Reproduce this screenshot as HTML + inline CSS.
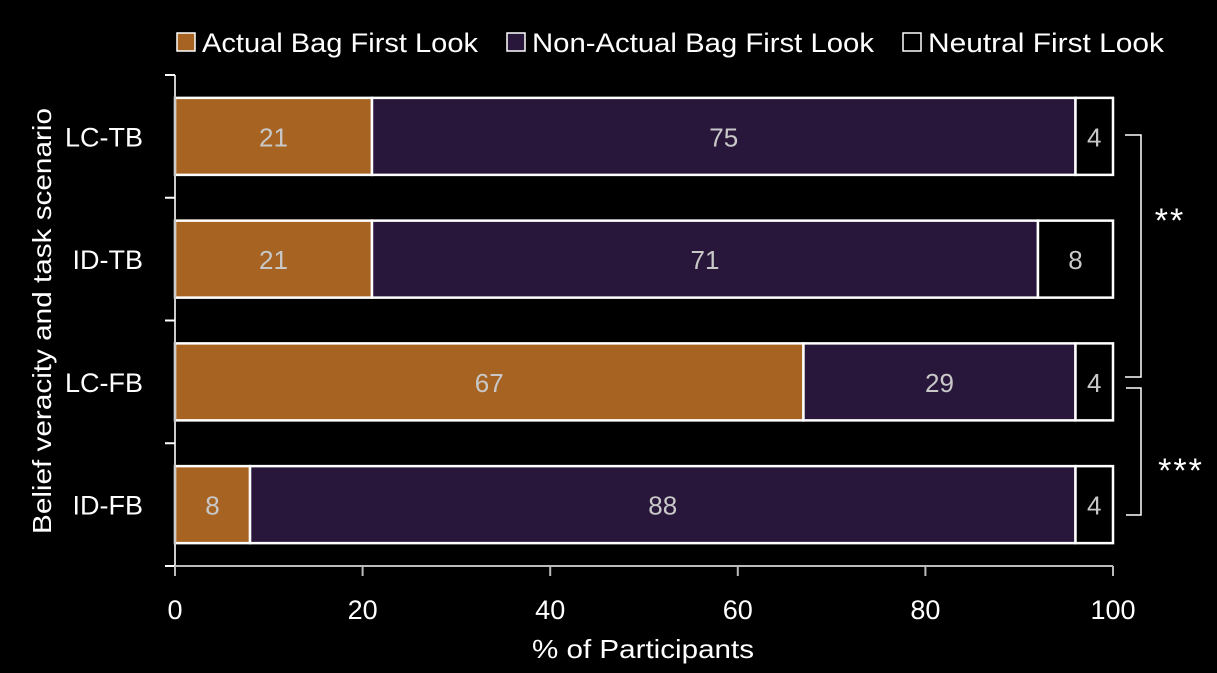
<!DOCTYPE html>
<html><head><meta charset="utf-8"><style>
html,body{margin:0;padding:0;background:#000;}
svg{display:block;font-family:"Liberation Sans",sans-serif;}
</style></head><body>
<svg id="chart" width="1217" height="673">
<g id="legend">
 <g><rect x="177" y="33" width="18" height="18" fill="#a66322" stroke="#fff" stroke-width="1.5"/><text x="202" y="52" font-size="27" fill="#fff" textLength="276" lengthAdjust="spacingAndGlyphs">Actual Bag First Look</text></g>
 <g><rect x="507" y="33" width="18" height="18" fill="#29173b" stroke="#fff" stroke-width="1.5"/><text x="532" y="52" font-size="27" fill="#fff" textLength="342" lengthAdjust="spacingAndGlyphs">Non-Actual Bag First Look</text></g>
 <g><rect x="903" y="33" width="18" height="18" fill="#000" stroke="#fff" stroke-width="1.5"/><text x="928" y="52" font-size="27" fill="#fff" textLength="236" lengthAdjust="spacingAndGlyphs">Neutral First Look</text></g>
</g>
<g id="bars"></g>
<g id="axes"></g>
<g fill="none" stroke="#fff" stroke-width="1.5">
 <path d="M1125 135 H1141 V377 H1125"/>
 <path d="M1126 388 H1141 V515 H1126"/>
</g>
<text x="1170" y="232" font-size="34" fill="#fff" text-anchor="middle" letter-spacing="2">**</text>
<text x="1181" y="482" font-size="34" fill="#fff" text-anchor="middle" letter-spacing="2">***</text>
<text x="643" y="658" font-size="26" fill="#fff" text-anchor="middle" textLength="222" lengthAdjust="spacingAndGlyphs">% of Participants</text>
<text transform="translate(51,321) rotate(-90)" font-size="26" fill="#fff" text-anchor="middle" textLength="426" lengthAdjust="spacingAndGlyphs">Belief veracity and task scenario</text>
</svg>
<script>
const categories = ["LC-TB","ID-TB","LC-FB","ID-FB"];
const actualValues = [21,21,67,8];
const nonActualValues = [75,71,29,88];
const neutralValues = [4,8,4,4];
const xTicks = [0,20,40,60,80,100];
const NS="http://www.w3.org/2000/svg";
const x0=175,x1=1113,yTop=75,band=122.75;
const xs=v=>x0+(x1-x0)*v/100;
const yc=i=>yTop+band*(i+0.5);
const barH=77;
function mk(tag,attrs,parent){const e=document.createElementNS(NS,tag);for(const k in attrs)e.setAttribute(k,attrs[k]);parent.appendChild(e);return e;}
const bars=document.getElementById('bars');
const series=[{v:actualValues,fill:"#a66322",n:"actual"},{v:nonActualValues,fill:"#29173b",n:"non-actual"},{v:neutralValues,fill:"#000",n:"neutral"}];
categories.forEach((c,i)=>{
  let acc=0;
  series.forEach(s=>{
    const v=s.v[i];
    const r=mk('rect',{x:xs(acc),y:yc(i)-barH/2,width:xs(acc+v)-xs(acc),height:barH,fill:s.fill,stroke:"#fff","stroke-width":2.5},bars);
    
    
    const t=mk('text',{x:(xs(acc)+xs(acc+v))/2,y:yc(i)+10,"font-size":26,fill:"#c8c8c8","text-anchor":"middle"},bars);
    t.textContent=v;
    
    
    acc+=v;
  });
  const l=mk('text',{x:143,y:yc(i)+10,"font-size":27,fill:"#fff","text-anchor":"end"},bars);
  l.textContent=c;
  
  
});
const axes=document.getElementById('axes');
const ya=mk('line',{x1:x0,y1:yTop,x2:x0,y2:yTop+band*4,stroke:"#ccc","stroke-width":2},axes);


for(let k=0;k<=4;k++){
  const t=mk('line',{x1:165,y1:yTop+band*k,x2:x0,y2:yTop+band*k,stroke:"#fff","stroke-width":2},axes);
  
  
}
const yb=yTop+band*4;
const xa=mk('line',{x1:x0,y1:yb,x2:x1,y2:yb,stroke:"#bbb","stroke-width":2},axes);


xTicks.forEach(v=>{
  const t=mk('line',{x1:xs(v),y1:yb,x2:xs(v),y2:yb+10,stroke:"#bbb","stroke-width":2},axes);
  
  
  const l=mk('text',{x:xs(v),y:619,"font-size":27,fill:"#fff","text-anchor":"middle"},axes);
  l.textContent=v;
  
  
});
</script>
</body></html>
